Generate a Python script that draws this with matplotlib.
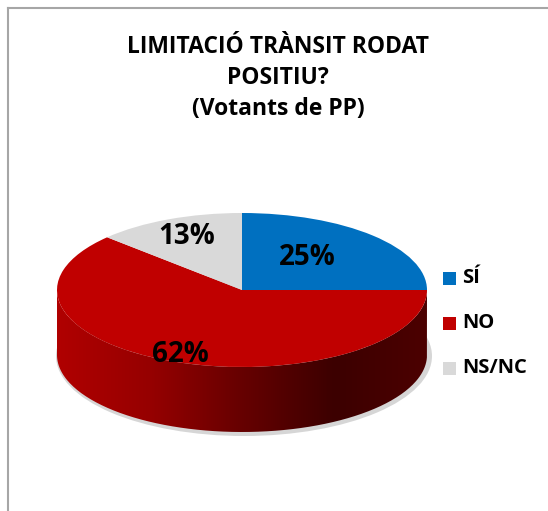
import numpy as np
import matplotlib
matplotlib.use("Agg")
import matplotlib.pyplot as plt
from matplotlib.patches import PathPatch, Rectangle, Ellipse
from matplotlib.path import Path
from matplotlib.transforms import Affine2D
from matplotlib.colors import LinearSegmentedColormap
from matplotlib.lines import Line2D

plt.rcParams['font.family'] = ['Open Sans', 'DejaVu Sans']

# data
categories = ['SÍ', 'NO', 'NS/NC']
values = [25, 62, 13]
colors = ['#0070C0', '#C00000', '#D9D9D9']
title = 'LIMITACIÓ TRÀNSIT RODAT\nPOSITIU?\n(Votants de PP)'

W, H = 548, 511
fig = plt.figure(figsize=(W / 100, H / 100), dpi=100)
ax = fig.add_axes([0, 0, 1, 1])

# pie geometry in pixel units (y up)
cx, cy = 242, H - 290
rx, ry = 185, 77
depth = 65

# shadow under the pie
ax.add_patch(Ellipse((cx + 2, cy - depth - 1), 2 * rx + 6, 2 * ry + 6,
                     facecolor='#bbbbbb', edgecolor='none', alpha=0.6, zorder=0))

# side of the pie (front half), drawn with a gradient
t = np.linspace(np.pi, 2 * np.pi, 200)
top = np.column_stack([cx + rx * np.cos(t), cy + ry * np.sin(t)])
bot = np.column_stack([cx + rx * np.cos(t[::-1]), cy - depth + ry * np.sin(t[::-1])])
verts = np.vstack([top, bot, top[:1]])
side_patch = PathPatch(Path(verts), facecolor='none', edgecolor='none')
ax.add_patch(side_patch)
cmap = LinearSegmentedColormap.from_list('side', ['#b00000', '#960000', '#660000', '#3c0000', '#4c0000'])
grad = np.linspace(0, 1, 256).reshape(1, -1)
im = ax.imshow(grad, cmap=cmap, aspect='auto', zorder=1,
               extent=[cx - rx, cx + rx, cy - depth - ry, cy])
im.set_clip_path(side_patch)

# top surface
wedges, _ = ax.pie(values, colors=colors, startangle=90, counterclock=False,
                   radius=rx, center=(cx, cy), wedgeprops=dict(linewidth=0))
squash = Affine2D().translate(-cx, -cy).scale(1, ry / rx).translate(cx, cy)
for w in wedges:
    w.set_transform(squash + ax.transData)
    w.set_zorder(2)

# percentage labels (radius factor and extra vertical nudge per slice)
label_r = [0.5, 0.9, 0.75]
label_dy = [5, 0, 0]
start = 90
for v, r, dy in zip(values, label_r, label_dy):
    mid = np.deg2rad(start - v * 3.6 / 2)
    start -= v * 3.6
    ax.text(cx + r * rx * np.cos(mid), cy + r * ry * np.sin(mid) + dy,
            f'{v}%', ha='center', va='center', fontsize=20, fontweight='bold',
            color='black', zorder=3)

ax.set_xlim(0, W)
ax.set_ylim(0, H)
ax.set_aspect('auto')
ax.axis('off')

# title
fig.text(278 / W, 1 - 78 / H, title, ha='center', va='center', fontsize=16.5,
         fontweight='bold', linespacing=1.4)

# legend
for i, lab in enumerate(categories):
    y = H - (278 + 45 * i)
    ax.add_patch(Rectangle((443, y - 6.5), 13, 13, facecolor=colors[i], edgecolor='none'))
    ax.text(462, y, lab, ha='left', va='center', fontsize=14.5, fontweight='bold')

# chart border
fig.add_artist(Line2D([7.5 / W, 7.5 / W], [0, 1 - 8 / H], color='#a6a6a6', lw=1.5))
fig.add_artist(Line2D([7.5 / W, 1], [1 - 8 / H, 1 - 8 / H], color='#a6a6a6', lw=1.5))

fig.savefig('out.png', dpi=100, facecolor='white')
